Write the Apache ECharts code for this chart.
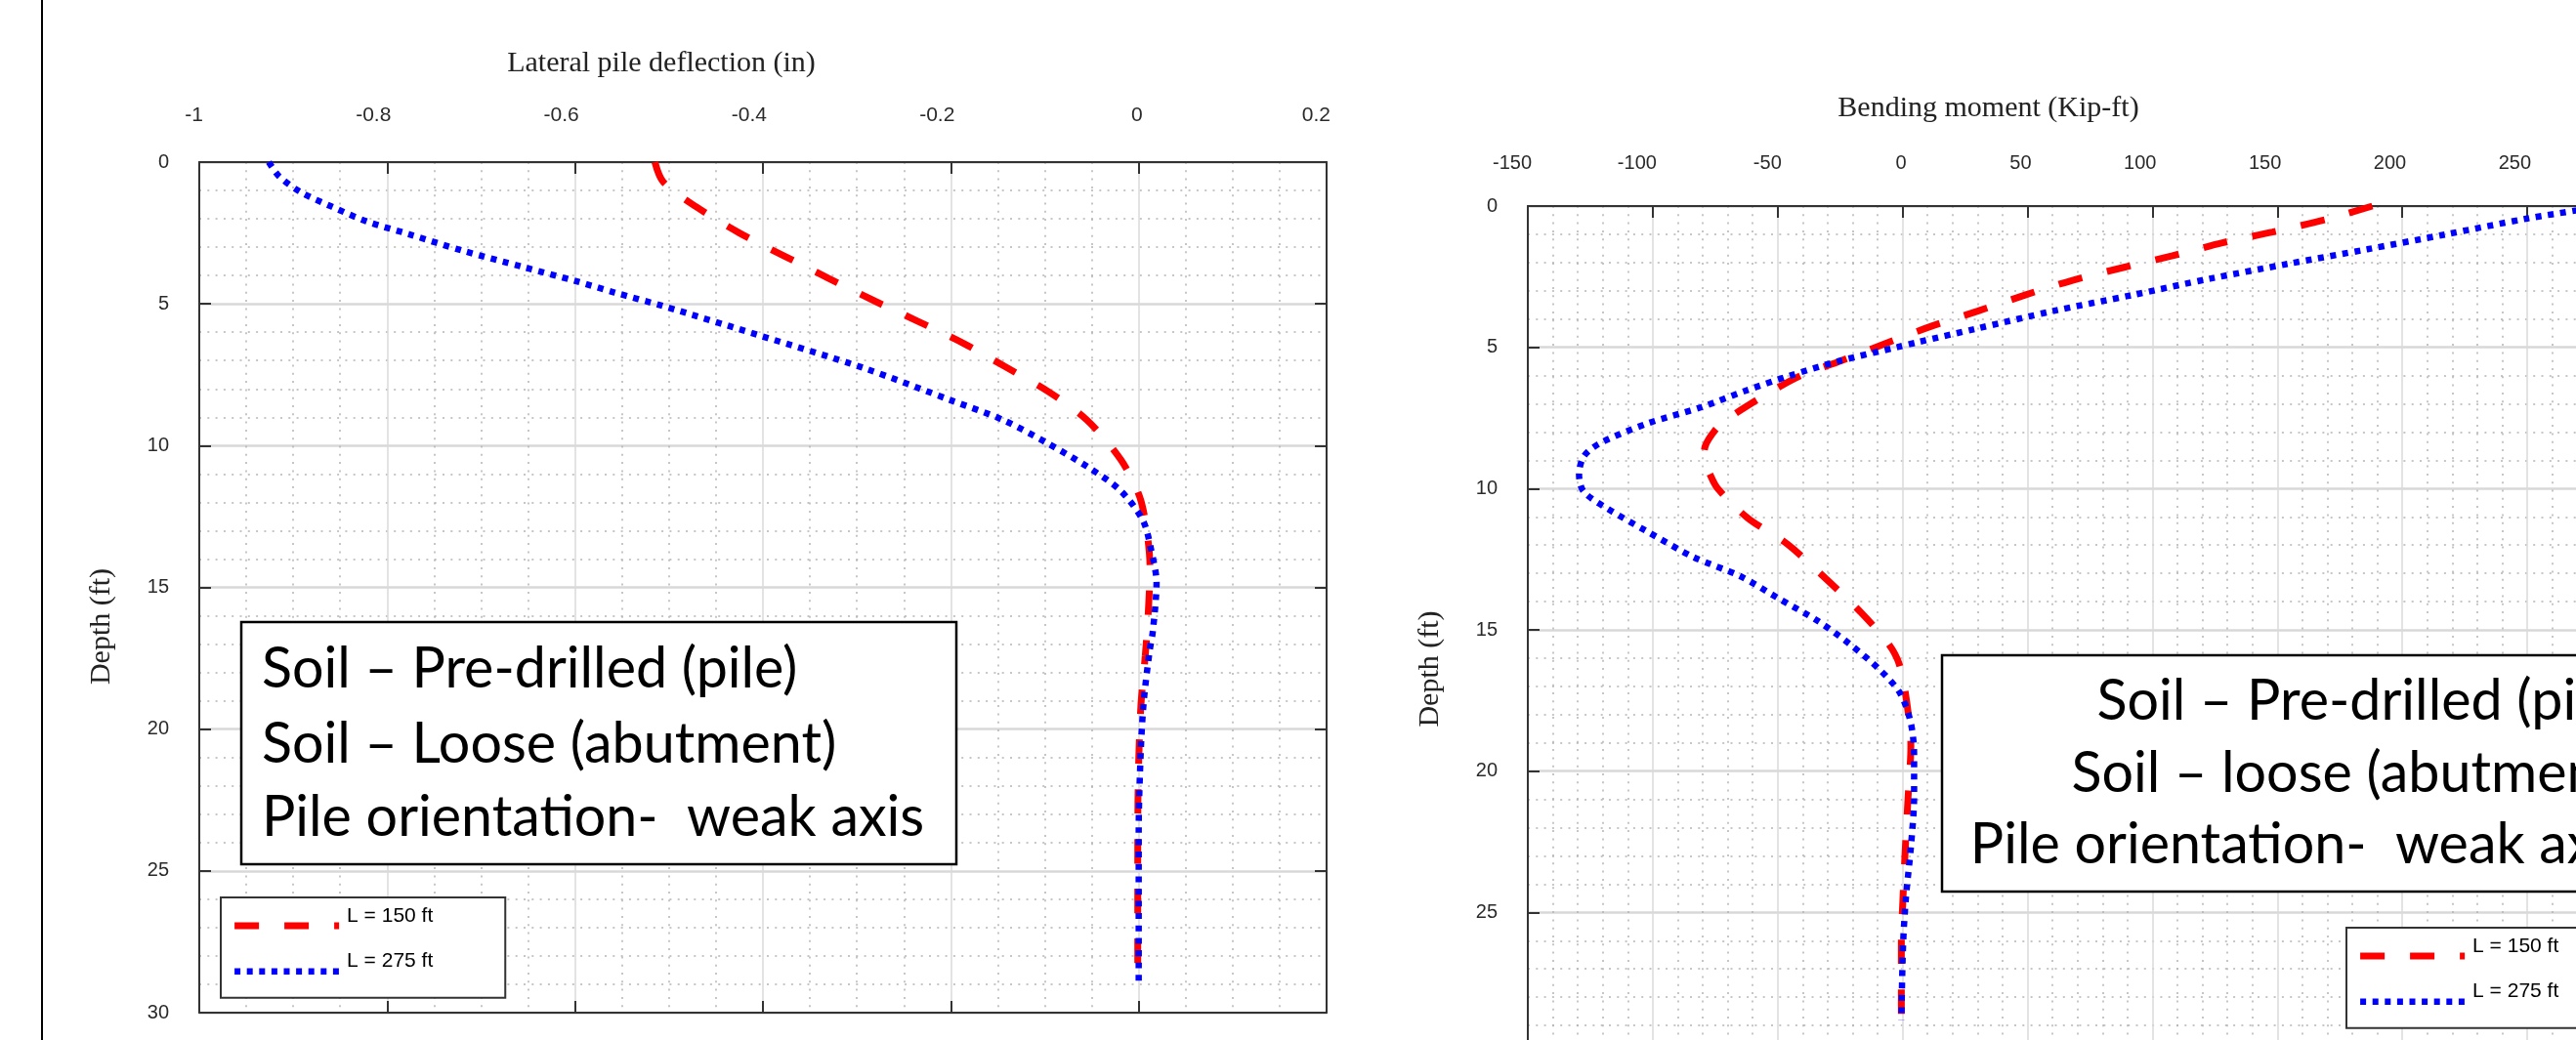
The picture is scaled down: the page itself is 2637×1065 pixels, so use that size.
<!DOCTYPE html>
<html>
<head>
<meta charset="utf-8">
<script src="https://cdn.jsdelivr.net/npm/echarts@6/dist/echarts.min.js"></script>
<style>
html,body{margin:0;padding:0;overflow:hidden;background:#fff;width:2637px;height:1065px;}
#c{position:absolute;left:0;top:0;width:2760px;height:1110px;}
</style>
</head>
<body>
<div id="c"></div>
<script>
// ---------- data ----------
const seriesNames = ['L = 150 ft', 'L = 275 ft'];

// Left chart: lateral pile deflection (in) vs depth (ft)
const deflXTicks = { min: -1, max: 0.2, step: 0.2 };
const depthDefl150 = [0, 0.7, 1.6, 2.5, 3.3, 4.1, 4.9, 5.6, 6.4, 7.2, 8.1, 9.1, 10.5, 11.8, 13.1, 14.3, 16.0, 17.4, 19.1, 20.9, 22.6, 25.0, 27.0, 29.0];
const defl150 = [-0.515, -0.506, -0.470, -0.425, -0.378, -0.330, -0.281, -0.236, -0.186, -0.143, -0.096, -0.055, -0.019, 0.001, 0.009, 0.012, 0.010, 0.007, 0.0025, 0.0002, -0.0008, -0.001, -0.001, -0.001];
const depthDefl275 = [0, 0.5, 1.06, 1.57, 2.09, 2.55, 3.12, 3.7, 4.2, 4.6, 5.07, 6.11, 7.26, 8.4, 9.1, 9.9, 10.8, 11.6, 12.64, 13.7, 14.84, 16.56, 17.25, 18.97, 20.7, 23.6, 26.0, 29.0];
const defl275 = [-0.926, -0.915, -0.892, -0.859, -0.822, -0.776, -0.720, -0.655, -0.599, -0.558, -0.507, -0.404, -0.293, -0.200, -0.144, -0.098, -0.052, -0.019, 0.0045, 0.0134, 0.019, 0.015, 0.0116, 0.0055, 0.0023, 0.0, 0.0, 0.0];

// Right chart: bending moment (Kip-ft) vs depth (ft)
const momXTicks = { min: -150, max: 300, step: 50 };
const depthMom150 = [0, 0.46, 0.92, 1.30, 1.76, 2.16, 2.63, 3.15, 3.72, 4.24, 4.82, 5.52, 5.97, 6.43, 7.12, 7.6, 7.93, 8.5, 9.0, 9.42, 10.0, 11.04, 11.96, 13.2, 14.4, 15.5, 16.2, 17.4, 19.1, 20.9, 22.7, 24.4, 26.1, 29.0];
const mom150 = [188, 170, 148, 128, 108, 89, 68, 49, 30, 12, -5.6, -26, -40, -50, -63, -71, -75, -79, -79.5, -77.5, -74, -62, -46.2, -30.6, -16.5, -5.6, -1.4, 1.4, 3.3, 2.2, 1.1, 0.2, -0.5, -0.5];
const depthMom275 = [0, 0.15, 0.44, 1.01, 1.53, 2.05, 2.57, 3.15, 3.72, 4.35, 4.82, 4.99, 5.5, 6.0, 6.54, 7.12, 7.69, 8.39, 8.85, 9.5, 10.1, 10.7, 11.5, 12.42, 13.1, 13.9, 14.7, 15.5, 16.45, 17.26, 18.3, 19.45, 20.9, 22.7, 24.4, 26.1, 28.8];
const mom275 = [280, 270, 250, 217, 186, 154, 123, 92, 60, 29, 6, -2, -26, -45, -63, -80.6, -102, -121, -127.5, -129.5, -127.7, -118.3, -102.6, -83.8, -65, -49.4, -33.7, -21.2, -8.7, -0.9, 3.3, 4.6, 4.6, 3.3, 1.4, 0.2, -0.5];

const depthTicks = { min: 0, max: 30, step: 5 };

const titleDefl = 'Lateral pile deflection (in)';
const titleMom = 'Bending moment (Kip-ft)';
const titleDepth = 'Depth (ft)';
const noteLeft = ['Soil \u2013 Pre-drilled (pile)', 'Soil \u2013 Loose (abutment)', 'Pile orientation-  weak axis'];
const noteRight = ['Soil \u2013 Pre-drilled (pile)', 'Soil \u2013 loose (abutment)', 'Pile orientation-  weak axis'];

// ---------- helpers ----------
const zip = (xs, ys) => xs.map((x, i) => [x, ys[i]]);
const SANS = 'Liberation Sans, Arial, sans-serif';
const SERIF = 'Liberation Serif, Times New Roman, serif';
const NOTEFONT = 'Lato';
function fitFont(family, text, targetW) {
  const c = document.createElement('canvas').getContext('2d');
  c.font = '100px ' + family;
  return 100 * targetW / c.measureText(text).width;
}
const noteSize = fitFont(NOTEFONT, 'Pile orientation-  weak axis', 678);

const AX = '#333';
function xAxes(gi, t, name, labelSize, labelMargin, nameGap, minorN) {
  const common = {
    type: 'value', gridIndex: gi, min: t.min, max: t.max, interval: t.step,
    axisLine: { show: true, onZero: false, lineStyle: { color: AX, width: 2 } },
    axisTick: { show: true, inside: true, length: 12, lineStyle: { color: AX, width: 2 } },
  };
  return [
    Object.assign({}, common, {
      position: 'top',
      axisLabel: { show: true, margin: labelMargin, fontSize: labelSize, fontFamily: SANS, color: '#2a2a2a', align: 'right', padding: [0, -4, 0, 0], showMinLabel: true, showMaxLabel: true },
      splitLine: { show: true, lineStyle: { color: '#dadada', width: 1.5 } },
      minorTick: { show: false, splitNumber: minorN },
      minorSplitLine: { show: true, lineStyle: { color: '#b4b4b4', width: 1.5, type: [2, 6.3] } },
      name: name, nameLocation: 'middle', nameGap: nameGap, nameMoveOverlap: false,
      nameTextStyle: { fontFamily: SERIF, fontSize: 30, color: '#222', padding: [0, 208, 0, 0] }
    }),
    Object.assign({}, common, {
      position: 'bottom', axisLabel: { show: false }, splitLine: { show: false }
    })
  ];
}
function yAxes(gi, labelPad) {
  const common = {
    type: 'value', gridIndex: gi, inverse: true, min: depthTicks.min, max: depthTicks.max, interval: depthTicks.step,
    axisLine: { show: true, onZero: false, lineStyle: { color: AX, width: 2 } },
    axisTick: { show: true, inside: true, length: 12, lineStyle: { color: AX, width: 2 } },
  };
  return [
    Object.assign({}, common, {
      position: 'left',
      axisLabel: { show: true, margin: 31, fontSize: 20, fontFamily: SANS, color: '#2a2a2a', padding: [0, 0, labelPad, 0], showMinLabel: true, showMaxLabel: true },
      splitLine: { show: true, lineStyle: { color: '#d8d8d8', width: 2.5 } },
      minorTick: { show: false, splitNumber: 5 },
      minorSplitLine: { show: true, lineStyle: { color: '#b4b4b4', width: 1.5, type: [2, 6.3] } },
      name: titleDepth, nameLocation: 'middle', nameGap: 85, nameRotate: 90, nameMoveOverlap: false,
      nameTextStyle: { fontFamily: SERIF, fontSize: 30, color: '#222', padding: [0, 80, 0, 0] }
    }),
    Object.assign({}, common, {
      position: 'right', axisLabel: { show: false }, splitLine: { show: false }
    })
  ];
}
const redStyle = { color: '#ff0000', width: 7, type: [25, 26], cap: 'butt' };
const blueStyle = { color: '#0000ff', width: 6.5, type: [6, 6.6], cap: 'butt' };
function lineSeries(name, xi, yi, data, style) {
  return {
    type: 'line', name: name, xAxisIndex: xi, yAxisIndex: yi, data: data,
    symbol: 'none', showSymbol: false, smooth: 0.3, z: 3,
    lineStyle: style, itemStyle: { color: style.color }, emphasis: { disabled: true }
  };
}
function legendAt(left, top) {
  return {
    show: true, left: left, top: top, orient: 'vertical',
    data: [
      { name: seriesNames[0], lineStyle: { width: redStyle.width, type: redStyle.type, color: redStyle.color, cap: 'butt' } },
      { name: seriesNames[1], lineStyle: { width: blueStyle.width, type: blueStyle.type, color: blueStyle.color, cap: 'butt' } }
    ],
    itemWidth: 107, itemHeight: 14, itemGap: 20.6, padding: [8.5, 74, 21.5, 10.6],
    itemStyle: { opacity: 0, borderWidth: 0 },
    borderColor: '#333', borderWidth: 2, backgroundColor: '#fff', selectedMode: false,
    formatter: '{t|{name}}',
    textStyle: {
      fontSize: 21, fontFamily: SANS, color: '#000',
      rich: { t: { fontSize: 21, fontFamily: SANS, color: '#000', padding: [0, 0, 20, 3] } }
    }
  };
}
function noteGraphics(box, lines, tx, ys, align) {
  const g = [{
    type: 'rect', z: 10, shape: box,
    style: { fill: '#fff', stroke: '#000', lineWidth: 2.5 }
  }];
  lines.forEach((t, i) => g.push({
    type: 'text', z: 11, x: tx, y: ys[i],
    style: { text: t, font: noteSize.toFixed(1) + 'px ' + NOTEFONT, fill: '#000', align: align, verticalAlign: 'middle' }
  }));
  return g;
}

const chart = echarts.init(document.getElementById('c'), null, { renderer: 'canvas' });
const option = {
  animation: false,
  backgroundColor: '#fff',
  grid: [
    { left: 204, top: 166, width: 1154, height: 871, containLabel: false, outerBoundsMode: 'none' },
    { left: 1564, top: 211, width: 1151, height: 868, containLabel: false, outerBoundsMode: 'none' }
  ],
  xAxis: [].concat(
    xAxes(0, deflXTicks, titleDefl, 21, 37, 86, 4),
    xAxes(1, momXTicks, titleMom, 20, 34, 85, 5)
  ),
  yAxis: [].concat(yAxes(0, 18), yAxes(1, 19)),
  legend: [legendAt(226, 919), legendAt(2402, 950)],
  series: [
    lineSeries(seriesNames[0], 0, 0, zip(defl150, depthDefl150), redStyle),
    lineSeries(seriesNames[1], 0, 0, zip(defl275, depthDefl275), blueStyle),
    lineSeries(seriesNames[0], 2, 2, zip(mom150, depthMom150), redStyle),
    lineSeries(seriesNames[1], 2, 2, zip(mom275, depthMom275), blueStyle)
  ],
  graphic: [].concat(
    [{ type: 'line', z: 10, shape: { x1: 43, y1: 0, x2: 43, y2: 1110 }, style: { stroke: '#000', lineWidth: 2 } }],
    noteGraphics({ x: 247, y: 637, width: 732, height: 248 }, noteLeft, 268, [685, 762, 837], 'left'),
    noteGraphics({ x: 1988, y: 671, width: 728, height: 242 }, noteRight, 2695, [718, 792, 865], 'right')
  )
};
chart.setOption(option);
</script>
</body>
</html>
